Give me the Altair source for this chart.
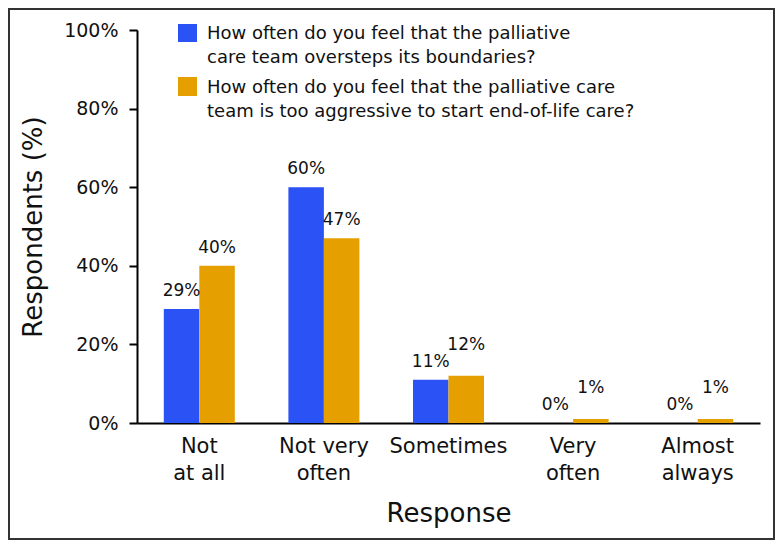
import altair as alt
import pandas as pd

categories = ["Not at all", "Not very often", "Sometimes", "Very often", "Almost always"]
cat_labels = ["Not\nat all", "Not very\noften", "Sometimes", "Very\noften", "Almost\nalways"]
series_names = [
    "How often do you feel that the palliative\ncare team oversteps its boundaries?",
    "How often do you feel that the palliative care\nteam is too aggressive to start end-of-life care?",
]
oversteps = [29, 60, 11, 0, 0]
aggressive = [40, 47, 12, 1, 1]
y_ticks = [0, 20, 40, 60, 80, 100]

colors = ["#2B52F5", "#E5A000"]
FONT = "DejaVu Sans"

W, H = 623, 393
PX_PER_UNIT = H / 100.0
GAP_UNITS = 13 / PX_PER_UNIT        # label gap above bar
STACK_UNITS = 30 / PX_PER_UNIT      # raise when two labels collide

rows = []
for lab, a, b in zip(cat_labels, oversteps, aggressive):
    la = a + GAP_UNITS
    lb = b + GAP_UNITS
    if abs(lb - la) < 14 / PX_PER_UNIT:
        lb = a + STACK_UNITS
    rows.append({"category": lab, "series": "A", "value": a, "lpos": la})
    rows.append({"category": lab, "series": "B", "value": b, "lpos": lb})
df = pd.DataFrame(rows)

xscale = alt.Scale(domain=cat_labels, paddingInner=0.43, paddingOuter=0.215)
yscale = alt.Scale(domain=[0, 100], nice=False)
cscale = alt.Scale(domain=["A", "B"], range=colors)
offscale = alt.Scale(domain=["A", "B"], paddingInner=0, paddingOuter=0)

base = alt.Chart(df)

bars = base.mark_bar(size=35.5).encode(
    x=alt.X(
        "category:N",
        sort=cat_labels,
        scale=xscale,
        axis=alt.Axis(
            title="Response",
            labelExpr="split(datum.label, '\\n')",
            labelAngle=0,
            labelFont=FONT,
            labelFontSize=21,
            labelLineHeight=27,
            labelColor="#111",
            labelPadding=12,
            ticks=False,
            domainColor="#000",
            domainWidth=2,
            titleFont=FONT,
            titleFontSize=26,
            titleFontWeight="normal",
            titleColor="#111",
            titlePadding=17,
        ),
    ),
    xOffset=alt.XOffset("series:N", scale=offscale),
    y=alt.Y(
        "value:Q",
        scale=yscale,
        axis=alt.Axis(
            title="Respondents (%)",
            values=y_ticks,
            labelExpr="datum.value + '%'",
            labelFont=FONT,
            labelFontSize=19,
            labelColor="#111",
            labelPadding=11,
            tickSize=8,
            tickWidth=2,
            tickColor="#000",
            domainColor="#000",
            domainWidth=2,
            grid=False,
            titleFont=FONT,
            titleFontSize=26,
            titleFontWeight="normal",
            titleColor="#111",
            titlePadding=17,
        ),
    ),
    color=alt.Color("series:N", scale=cscale, legend=None),
)

labels = base.transform_calculate(
    lbl="format(datum.value, 'd') + '%'"
).mark_text(font=FONT, fontSize=17, color="#111", baseline="alphabetic").encode(
    x=alt.X("category:N", sort=cat_labels, scale=xscale),
    xOffset=alt.XOffset("series:N", scale=offscale),
    y=alt.Y("lpos:Q", scale=yscale),
    text="lbl:N",
)

one = alt.Data(values=[{"k": 1}])

leg_sq1 = alt.Chart(one).mark_rect(color=colors[0]).encode(
    x=alt.value(41), x2=alt.value(60), y=alt.value(-6), y2=alt.value(12)
)
leg_sq2 = alt.Chart(one).mark_rect(color=colors[1]).encode(
    x=alt.value(41), x2=alt.value(60), y=alt.value(47), y2=alt.value(66)
)
leg_t1 = alt.Chart(one).mark_text(
    text=series_names[0].split("\n"), font=FONT, fontSize=18, color="#111",
    align="left", baseline="alphabetic", lineHeight=24,
).encode(x=alt.value(70), y=alt.value(9))
leg_t2 = alt.Chart(one).mark_text(
    text=series_names[1].split("\n"), font=FONT, fontSize=18, color="#111",
    align="left", baseline="alphabetic", lineHeight=24,
).encode(x=alt.value(70), y=alt.value(63))

border = alt.Chart(one).mark_rect(fill="transparent", stroke="#333", strokeWidth=2).encode(
    x=alt.value(-128), x2=alt.value(637), y=alt.value(-21), y2=alt.value(509)
)

chart = alt.layer(border, bars, labels, leg_sq1, leg_sq2, leg_t1, leg_t2).properties(
    width=W,
    height=H,
    background="white",
    autosize=alt.AutoSizeParams(type="none"),
    padding={"left": 129, "top": 22, "right": 15, "bottom": 118},
).configure_view(strokeWidth=0, stroke="transparent")

chart.save("out.html", embed_options={"renderer": "svg", "actions": False})
